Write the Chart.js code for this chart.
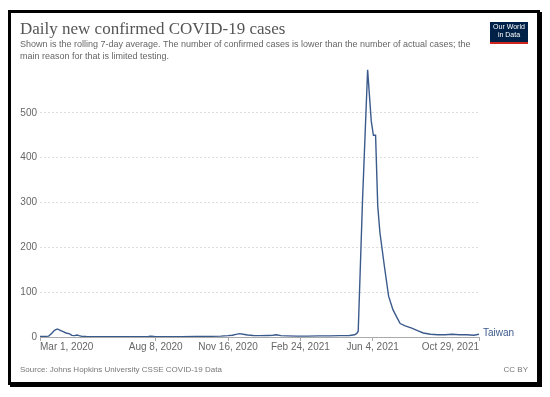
<!DOCTYPE html>
<html>
<head>
<meta charset="utf-8">
<script src="https://cdn.jsdelivr.net/npm/chart.js@4"></script>
<style>
  body { margin: 0; width: 550px; height: 397px; overflow: hidden; position: relative; background: #fff; font-family: "Liberation Sans", Arial, sans-serif; }
  #frame { position: absolute; left: 8px; top: 10px; width: 526px; height: 369px; border: 3px solid #000; box-shadow: 2px 2px 0 #000; }
  #chart { position: absolute; left: 0; top: 0; }
  .txt { position: absolute; white-space: nowrap; }
  #title { left: 20px; top: 20px; font: 17px/17px "Liberation Serif", "Times New Roman", serif; color: #555; }
  #subtitle { left: 20px; top: 38px; font-size: 9px; line-height: 12px; color: #666; }
  #logo { position: absolute; left: 490px; top: 22px; width: 38px; height: 19px; background: #002147; border-bottom: 2px solid #ce261e; color: #fff; font-size: 7px; line-height: 8px; text-align: center; padding-top: 1px; box-sizing: content-box; }
  #source { left: 20px; top: 365px; font-size: 8px; line-height: 10px; color: #777; }
  #cc { right: 22px; top: 365px; font-size: 8px; line-height: 10px; color: #777; }
</style>
</head>
<body>
<div id="frame"></div>
<canvas id="chart" width="550" height="397"></canvas>
<div class="txt" id="title">Daily new confirmed COVID-19 cases</div>
<div class="txt" id="subtitle">Shown is the rolling 7-day average. The number of confirmed cases is lower than the number of actual cases; the<br>main reason for that is limited testing.</div>
<div id="logo">Our World<br>in Data</div>
<div class="txt" id="source">Source: Johns Hopkins University CSSE COVID-19 Data</div>
<div class="txt" id="cc">CC BY</div>
<script>
// days since Mar 1, 2020
const days = [0, 4, 8, 12, 16, 20, 24, 28, 32, 36, 41, 44, 48, 51, 54, 58, 64, 75, 90, 110, 130, 150, 153, 158, 175, 195, 215, 235, 250, 260, 266, 271, 276, 281, 287, 295, 305, 315, 322, 327, 333, 342, 355, 370, 385, 400, 415, 428, 435, 438, 440, 446, 453, 458, 461, 464, 467, 470, 476, 482, 488, 494, 498, 505, 514, 522, 530, 540, 550, 560, 570, 580, 590, 600, 607];
const cases = [1, 1, 1.5, 2, 8, 15, 18, 15, 12, 9, 7, 3.5, 3, 4.5, 3, 1.5, 1, 0.5, 0.5, 0.5, 0.5, 1, 2, 1, 0.5, 0.5, 1, 1.5, 2, 3, 4, 6, 7.5, 6, 4.5, 3.5, 3, 3.5, 4, 5, 3, 2.5, 2, 2, 2.5, 2.5, 3, 3.5, 5, 8, 13, 307, 596, 482, 450, 450, 292, 233, 160, 91, 61, 42, 30, 25, 20, 14, 9, 6, 5, 5, 6, 5, 5, 4, 6];
const seriesName = 'Taiwan';
const xTickDays = [0, 160, 260, 360, 460, 607];
const xTickLabels = ['Mar 1, 2020', 'Aug 8, 2020', 'Nov 16, 2020', 'Feb 24, 2021', 'Jun 4, 2021', 'Oct 29, 2021'];
const yTicks = [0, 100, 200, 300, 400, 500];

const lineColor = '#3b5a8c';

const endLabel = {
  id: 'endLabel',
  afterDatasetsDraw(chart) {
    const pts = chart.getDatasetMeta(0).data;
    const p = pts[pts.length - 1];
    const c = chart.ctx;
    c.save();
    c.font = '10px "Liberation Sans", Arial, sans-serif';
    c.fillStyle = lineColor;
    c.textBaseline = 'middle';
    c.fillText(seriesName, p.x + 4, p.y - 1);
    c.restore();
  }
};

new Chart(document.getElementById('chart'), {
  type: 'line',
  data: {
    datasets: [{
      label: seriesName,
      data: days.map((d, i) => ({ x: d, y: cases[i] })),
      borderColor: lineColor,
      borderWidth: 1.4,
      pointRadius: 0,
      tension: 0,
      fill: false
    }]
  },
  options: {
    responsive: false,
    animation: false,
    layout: { padding: { left: 15, right: 71, top: 68, bottom: 40 } },
    plugins: { legend: { display: false }, tooltip: { enabled: false } },
    scales: {
      x: {
        type: 'linear', min: 0, max: 607,
        afterBuildTicks: s => { s.ticks = xTickDays.map(v => ({ value: v })); },
        afterFit: s => { s.height = 20; },
        ticks: {
          autoSkip: false, maxRotation: 0, align: 'inner', padding: 0,
          color: '#666', font: { size: 10, family: '"Liberation Sans", Arial, sans-serif' },
          callback: (v, i) => xTickLabels[i]
        },
        grid: { drawOnChartArea: false, tickLength: 4, color: '#aaa' },
        border: { color: '#aaa' }
      },
      y: {
        min: 0, max: 600,
        afterBuildTicks: s => { s.ticks = yTicks.map(v => ({ value: v })); },
        afterFit: s => { s.width = 25; },
        ticks: { color: '#666', padding: 3, font: { size: 10, family: '"Liberation Sans", Arial, sans-serif' } },
        grid: { color: '#ddd', drawTicks: false },
        border: { display: false, dash: [2, 2] }
      }
    }
  },
  plugins: [endLabel]
});
</script>
</body>
</html>
